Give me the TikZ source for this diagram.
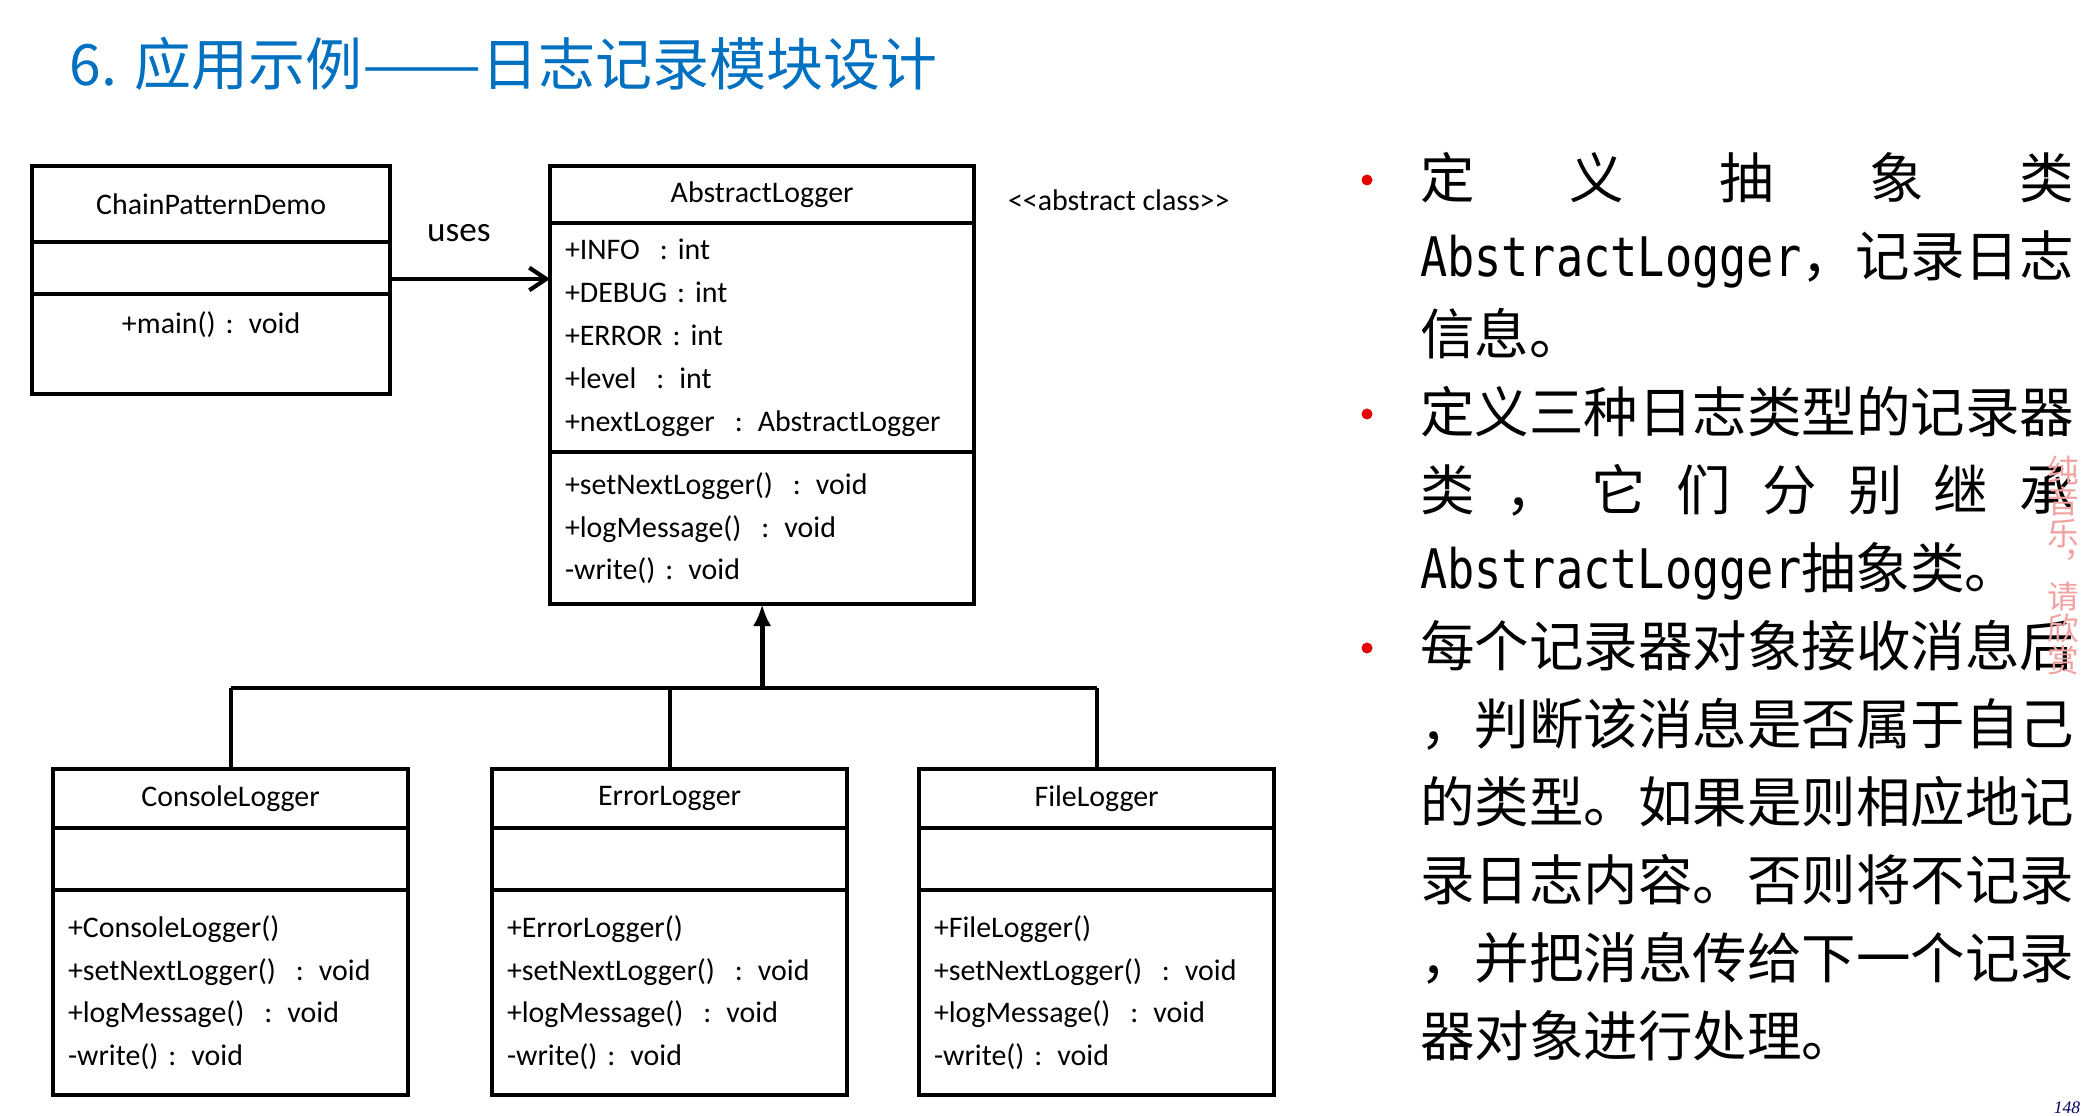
\documentclass[tikz,border=0pt]{standalone}
\usepackage{fontspec}
\usepackage{tikz}
\usetikzlibrary{positioning,arrows.meta}
\newfontfamily\cjk{Noto Sans CJK SC}
\newfontfamily\latmono{DejaVu Sans Mono}[FakeStretch=0.83]
\newfontfamily\umlfont{Carlito}
\newfontfamily\pagefont{Liberation Serif}
\definecolor{titleblue}{RGB}{0,112,192}
\definecolor{bulletred}{RGB}{230,0,0}
\definecolor{markpink}{RGB}{242,160,160}

\begin{document}
\begin{tikzpicture}
[x=0.01cm,y=-0.01cm,every node/.style={inner sep=0pt,outer sep=0pt},
umlhead/.style={draw,line width=1.1pt,font=\umlfont\fontsize{8.5}{12.2}\selectfont,align=center},
umlbody/.style={draw,line width=1.1pt,font=\umlfont\fontsize{8.5}{12.2}\selectfont,align=left,inner xsep=0.15cm},
genline/.style={line width=1.1pt},
textline/.style={anchor=base west,font=\cjk\fontsize{15.5}{15.5}\selectfont},
bulletdot/.style={circle,fill=bulletred,minimum size=0.11cm}]
\path[fill=white] (0,0) rectangle (2093,1116);
\useasboundingbox (0,0) rectangle (2093,1116);

\node[anchor=base west,text=titleblue,font=\cjk\fontsize{16.2}{16.2}\selectfont] (title) at (70,86) {6. 应用示例\scalebox{1.25}[1]{——}日志记录模块设计};

\node[umlhead,minimum width=3.58cm,minimum height=0.76cm,anchor=north west] (demo) at (32,166) {ChainPatternDemo};
\node[umlbody,text width=3.28cm,minimum height=0.52cm,below=0pt of demo] (demoattr) {};
\node[umlbody,text width=3.28cm,minimum height=1.00cm,below=0pt of demoattr,align=center] (demoop) {+main() : void\\\mbox{}};

\node[umlhead,minimum width=4.24cm,minimum height=0.57cm,anchor=north west] (abs) at (550,166) {AbstractLogger};
\node[umlbody,text width=3.94cm,minimum height=2.29cm,below=0pt of abs] (absattr) {+INFO~ : int\\+DEBUG : int\\+ERROR : int\\+level~ : int\\+nextLogger~ : AbstractLogger};
\node[umlbody,text width=3.94cm,minimum height=1.52cm,below=0pt of absattr] (absop) {+setNextLogger()~ : void\\+logMessage()~ : void\\-write() : void};
\node[anchor=west,font=\umlfont\fontsize{8.5}{12.2}\selectfont] (stereo) at (1008,200) {<\kern0pt<abstract class>\kern0pt>};

\node[umlhead,minimum width=3.55cm,minimum height=0.59cm,anchor=north west] (console) at (53,769) {ConsoleLogger};
\node[umlbody,text width=3.25cm,minimum height=0.62cm,below=0pt of console] (consoleattr) {};
\node[umlbody,text width=3.25cm,minimum height=2.05cm,below=0pt of consoleattr] (consoleop) {+ConsoleLogger()\\+setNextLogger()~ : void\\+logMessage()~ : void\\-write() : void};

\node[umlhead,minimum width=3.55cm,minimum height=0.59cm,anchor=north west] (error) at (492,769) {ErrorLogger};
\node[umlbody,text width=3.25cm,minimum height=0.62cm,below=0pt of error] (errorattr) {};
\node[umlbody,text width=3.25cm,minimum height=2.05cm,below=0pt of errorattr] (errorop) {+ErrorLogger()\\+setNextLogger()~ : void\\+logMessage()~ : void\\-write() : void};

\node[umlhead,minimum width=3.55cm,minimum height=0.59cm,anchor=north west] (file) at (919,769) {FileLogger};
\node[umlbody,text width=3.25cm,minimum height=0.62cm,below=0pt of file] (fileattr) {};
\node[umlbody,text width=3.25cm,minimum height=2.05cm,below=0pt of fileattr] (fileop) {+FileLogger()\\+setNextLogger()~ : void\\+logMessage()~ : void\\-write() : void};

\coordinate (usesy) at (0,279);
\coordinate (bar) at (0,688);
\draw[line width=1.2pt,-{Straight Barb[length=4.8pt,width=6.4pt]}] (demoattr.east |- usesy) -- (absattr.west |- usesy)
  node[pos=0.43,above=0.37cm,font=\umlfont\fontsize{10}{12}\selectfont] (uses) {uses};
\draw[line width=1.4pt,-{Latex[length=6.2pt,width=5.2pt]}] (absop.south |- bar) -- (absop.south);
\draw[genline] (console.north |- bar) -- (file.north |- bar);
\foreach \cls in {console,error,file}
\draw[genline] (\cls.north |- bar) -- (\cls.north);

\foreach \i in {0,3,6}
\node[bulletdot] (dot\i) at (1367,{180+78*\i}) {};
\foreach \txt [count=\i from 0] in {
{\makebox[12em][s]{定\hfill 义\hfill 抽\hfill 象\hfill 类}},
{{\latmono AbstractLogger}，记录日志},
{信息。},
{定义三种日志类型的记录器},
{\makebox[12em][s]{类\hfill ，\hfill 它\hfill 们\hfill 分\hfill 别\hfill 继\hfill 承}},
{{\latmono AbstractLogger}抽象类。},
{每个记录器对象接收消息后},
{，判断该消息是否属于自己},
{的类型。如果是则相应地记},
{录日志内容。否则将不记录},
{，并把消息传给下一个记录},
{器对象进行处理。}}
\node[textline] (line\i) at (1420,{199+78*\i}) {\txt};

\node[align=center,text=markpink,font=\cjk\fontsize{9}{9}\selectfont] (mark) at (2063,565) {纯\\音\\乐\\︐\\请\\欣\\赏};
\node[text=black!60!blue,font=\pagefont\itshape\fontsize{5}{5}\selectfont] (page) at (2067,1108) {148};
\end{tikzpicture}
\end{document}
